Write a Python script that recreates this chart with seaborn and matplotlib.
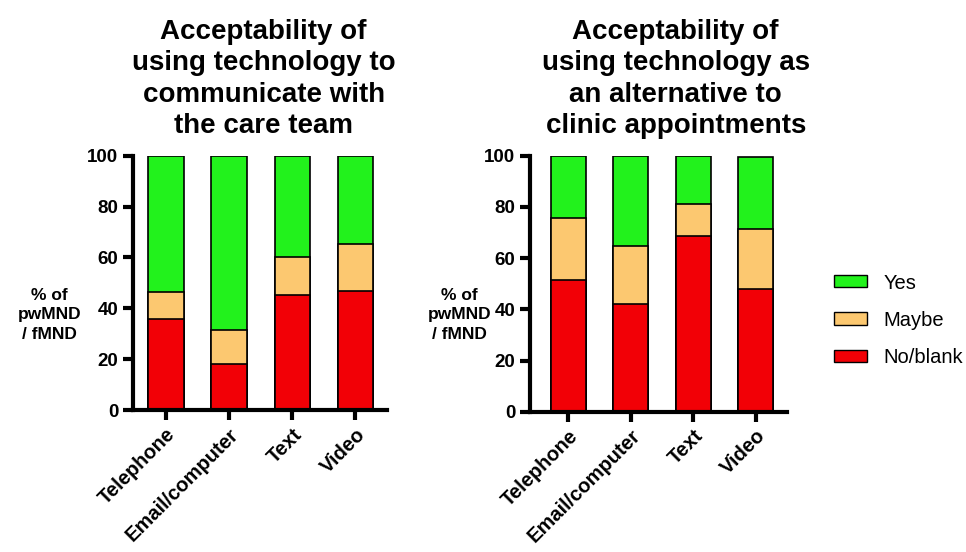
import matplotlib
matplotlib.use('Agg')
import matplotlib.pyplot as plt
import seaborn as sns
import pandas as pd
from matplotlib.patches import Patch

categories = ['Telephone', 'Email/computer', 'Text', 'Video']
responses = ['Yes', 'Maybe', 'No/blank']

# left panel: communicate with care team (% of pwMND / fMND)
comm_no = [36.0, 18.2, 45.2, 46.8]
comm_maybe = [10.6, 13.4, 15.0, 18.6]
comm_yes = [53.4, 68.4, 39.8, 34.6]

# right panel: alternative to clinic appointments
clinic_no = [51.3, 42.2, 68.5, 48.0]
clinic_maybe = [24.5, 22.4, 12.5, 23.5]
clinic_yes = [24.2, 35.4, 19.0, 28.0]

titles = ['Acceptability of\nusing technology to\ncommunicate with\nthe care team',
          'Acceptability of\nusing technology as\nan alternative to\nclinic appointments']

colors = {'Yes': '#22f21c', 'Maybe': '#fcc870', 'No/blank': '#f20006'}

sns.set_style('ticks')
plt.rcParams['font.family'] = ['Liberation Sans', 'DejaVu Sans']
plt.rcParams.update({'text.color': 'black', 'axes.edgecolor': 'black',
                     'xtick.color': 'black', 'ytick.color': 'black',
                     'axes.labelcolor': 'black'})

fig = plt.figure(figsize=(9.66, 5.52), dpi=100)
ax1 = fig.add_axes([0.1377, 0.257, 0.263, 0.461])
ax2 = fig.add_axes([0.5487, 0.254, 0.266, 0.4640])


def stacked(ax, no, maybe, yes, title, xlim, title_x, lab_xy):
    df = pd.DataFrame({'cat': categories, 'No/blank': no, 'Maybe': maybe, 'Yes': yes})
    df['c_no'] = df['No/blank']
    df['c_maybe'] = df['c_no'] + df['Maybe']
    df['c_yes'] = df['c_maybe'] + df['Yes']
    # draw tallest first, then overlay
    for col, resp in [('c_yes', 'Yes'), ('c_maybe', 'Maybe'), ('c_no', 'No/blank')]:
        sns.barplot(data=df, x='cat', y=col, ax=ax, color=colors[resp],
                    edgecolor='black', linewidth=1.2, width=0.56, saturation=1)
    ax.set_ylim(0, 100)
    ax.set_xlim(*xlim)
    ax.set_yticks([0, 20, 40, 60, 80, 100])
    ax.tick_params(axis='both', width=3, length=7, labelsize=13.5)
    for lab in ax.get_yticklabels():
        lab.set_fontweight('bold')
    ax.set_xticks(range(len(categories)))
    ax.set_xticklabels(categories, rotation=45, ha='right', rotation_mode='anchor',
                       fontweight='bold', fontsize=14.5)
    ax.set_xlabel('')
    ax.set_ylabel('% of\npwMND\n/ fMND', rotation=0, fontweight='bold', fontsize=12.5,
                  ha='center', va='center', linespacing=1.4)
    ax.yaxis.set_label_coords(*lab_xy)
    for s in ['left', 'bottom']:
        ax.spines[s].set_linewidth(3)
    sns.despine(ax=ax)
    ax.set_title(title, fontsize=20, fontweight='bold', x=title_x, pad=16, linespacing=1.28)


stacked(ax1, comm_no, comm_maybe, comm_yes, titles[0], (-0.52, 3.5), 0.514, (-0.33, 0.374))
stacked(ax2, clinic_no, clinic_maybe, clinic_yes, titles[1], (-0.61, 3.5), 0.567, (-0.275, 0.378))

handles = [Patch(facecolor=colors[r], edgecolor='black', linewidth=1) for r in responses]
fig.legend(handles, responses, loc='center left', bbox_to_anchor=(0.845, 0.42),
           frameon=False, fontsize=14.5, handlelength=1.6, handleheight=0.55,
           labelspacing=0.9, handletextpad=0.85)

fig.savefig('out.png', dpi=100)
